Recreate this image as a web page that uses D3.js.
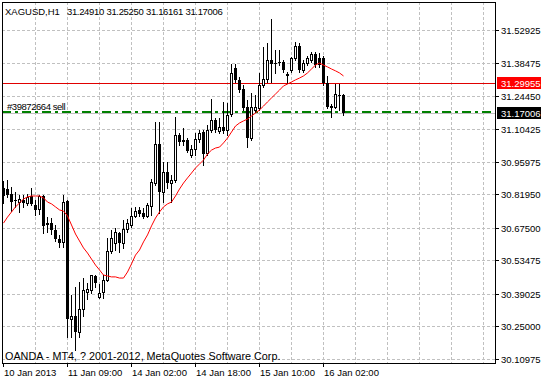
<!DOCTYPE html>
<html>
<head>
<meta charset="utf-8">
<script src="https://cdn.jsdelivr.net/npm/d3@7.9.0/dist/d3.min.js"></script>
<style>
  body { margin: 0; background: #fff; }
  svg { display: block; font-family: "Liberation Sans", Arial, sans-serif; }
</style>
</head>
<body>
<svg id="chart" width="541" height="380"></svg>
<script>
// XAGUSD H1, 86 bars
const opens = [30.848,30.843,30.822,30.796,30.787,30.796,30.783,30.813,30.774,30.757,
  30.813,30.697,30.697,30.666,30.627,30.615,30.792,30.282,30.295,30.226,
  30.325,30.399,30.407,30.468,30.377,30.399,30.451,30.576,30.610,30.653,
  30.610,30.670,30.688,30.727,30.753,30.740,30.727,30.770,30.869,31.037,
  30.830,30.916,30.869,30.882,31.076,31.055,31.055,30.990,31.016,31.059,
  31.089,30.998,31.098,31.141,31.094,31.111,31.098,31.167,31.365,31.314,
  31.275,31.197,31.064,31.184,31.193,31.292,31.318,31.400,31.387,31.391,
  31.391,31.335,31.357,31.409,31.460,31.357,31.387,31.400,31.426,31.409,
  31.409,31.301,31.197,31.197,31.249,31.24910];
const highs = [30.878,30.882,30.852,30.830,30.817,30.817,30.822,30.848,30.796,30.817,
  30.817,30.722,30.718,30.688,30.645,30.817,30.796,30.386,30.420,30.442,
  30.459,30.437,30.472,30.472,30.433,30.472,30.632,30.666,30.675,30.658,
  30.709,30.713,30.761,30.766,30.766,30.761,30.783,30.886,31.132,31.132,
  30.959,30.959,30.904,31.154,31.085,31.107,31.063,31.033,31.085,31.098,
  31.098,31.120,31.232,31.150,31.150,31.219,31.214,31.383,31.383,31.327,
  31.292,31.227,31.258,31.249,31.344,31.456,31.473,31.577,31.443,31.443,
  31.400,31.348,31.413,31.478,31.473,31.400,31.417,31.434,31.434,31.430,
  31.417,31.331,31.210,31.296,31.296,31.25250];
const lows = [30.783,30.809,30.748,30.766,30.744,30.766,30.774,30.774,30.731,30.735,
  30.653,30.658,30.649,30.619,30.593,30.593,30.205,30.205,30.149,30.205,
  30.295,30.369,30.394,30.420,30.373,30.373,30.446,30.567,30.580,30.571,
  30.589,30.658,30.680,30.722,30.727,30.718,30.722,30.731,30.861,30.740,
  30.787,30.848,30.787,30.873,31.033,31.033,31.003,30.981,30.990,31.046,
  30.947,30.990,31.089,31.089,31.085,31.085,31.076,31.158,31.305,31.262,
  31.184,31.025,31.055,31.175,31.184,31.283,31.305,31.305,31.344,31.378,
  31.348,31.301,31.348,31.400,31.348,31.348,31.378,31.391,31.370,31.370,
  31.292,31.193,31.154,31.193,31.184,31.16161];
const closes = [30.813,30.817,30.787,30.792,30.800,30.783,30.809,30.779,30.753,30.813,
  30.684,30.688,30.666,30.627,30.610,30.787,30.282,30.295,30.226,30.325,
  30.407,30.412,30.472,30.437,30.394,30.451,30.576,30.632,30.658,30.610,
  30.670,30.697,30.727,30.748,30.735,30.722,30.774,30.873,31.037,30.830,
  30.916,30.869,30.882,31.076,31.046,31.046,31.007,31.016,31.059,31.085,
  30.994,31.098,31.141,31.098,31.111,31.094,31.163,31.344,31.314,31.270,
  31.193,31.064,31.197,31.197,31.292,31.318,31.400,31.383,31.383,31.387,
  31.357,31.340,31.409,31.460,31.357,31.387,31.409,31.426,31.378,31.378,
  31.301,31.197,31.201,31.253,31.245,31.17006];
// red moving average, one value per bar
const maValues = [30.696,30.722,30.744,30.766,30.783,30.800,30.809,30.813,30.813,30.813,
  30.805,30.787,30.779,30.766,30.753,30.748,30.727,30.688,30.649,30.619,
  30.589,30.567,30.541,30.515,30.494,30.472,30.468,30.464,30.464,30.459,
  30.459,30.485,30.520,30.558,30.580,30.615,30.645,30.684,30.718,30.744,
  30.766,30.779,30.787,30.813,30.843,30.869,30.891,30.912,30.934,30.951,
  30.968,30.994,31.011,31.020,31.024,31.042,31.063,31.089,31.115,31.128,
  31.137,31.145,31.158,31.171,31.184,31.201,31.219,31.236,31.253,31.270,
  31.288,31.296,31.305,31.314,31.322,31.331,31.344,31.361,31.378,31.387,
  31.378,31.370,31.361,31.353,31.344,31.331];

const priceTicks = [31.52925,31.38475,31.24450,31.10425,30.95975,30.81950,
  30.67500,30.53475,30.39025,30.25000,30.10975];
const timeLabels = ["10 Jan 2013","11 Jan 09:00","14 Jan 02:00","14 Jan 18:00","15 Jan 10:00","16 Jan 02:00"];
const timeLabelBars = [0,16,32,48,64,80];

const symbol = "XAGUSD,H1";
const alertPrice = 31.29955;
const bidPrice = 31.17006;
const orderPrice = 31.1745;
const orderLabel = "#39872664 sell";
const copyright = "OANDA - MT4, ? 2001-2012, MetaQuotes Software Corp.";

const plotLeft = 2, plotTop = 2, plotRight = 495, plotBottom = 363;
const svg = d3.select("#chart");
const fmt = d3.format(".5f");
const px = v => Math.round(v) + 0.5;

const x = d3.scaleLinear().domain([0, 123]).range([3, 495]);
const y = d3.scaleLinear()
  .domain([priceTicks[priceTicks.length - 1], priceTicks[0]])
  .range([359, 30]);

svg.append("clipPath").attr("id", "plot")
  .append("rect").attr("x", plotLeft + 1).attr("y", plotTop + 1)
  .attr("width", plotRight - plotLeft - 1).attr("height", plotBottom - plotTop - 1);

const plot = svg.append("g").attr("clip-path", "url(#plot)");

// grid
const gridBars = d3.range(8, 124, 8);
plot.selectAll(".vgrid").data(gridBars).join("line")
  .attr("x1", d => px(x(d))).attr("x2", d => px(x(d)))
  .attr("y1", plotTop).attr("y2", plotBottom)
  .attr("stroke", "#c0c0c0").attr("stroke-dasharray", "3,2");
plot.selectAll(".hgrid").data(priceTicks).join("line")
  .attr("x1", plotLeft).attr("x2", plotRight)
  .attr("y1", d => px(y(d))).attr("y2", d => px(y(d)))
  .attr("stroke", "#c0c0c0").attr("stroke-dasharray", "3,2");

// level lines
plot.append("line")
  .attr("x1", plotLeft).attr("x2", plotRight)
  .attr("y1", px(y(alertPrice))).attr("y2", px(y(alertPrice)))
  .attr("stroke", "#e00000");
plot.append("line")
  .attr("x1", plotLeft).attr("x2", plotRight)
  .attr("y1", px(y(bidPrice))).attr("y2", px(y(bidPrice)))
  .attr("stroke", "#c0c0c0");
plot.append("line")
  .attr("x1", plotLeft).attr("x2", plotRight)
  .attr("y1", Math.round(y(orderPrice))).attr("y2", Math.round(y(orderPrice)))
  .attr("stroke", "#008000").attr("stroke-width", 2)
  .attr("stroke-dasharray", "9,4,3,4");

// candles
const bars = d3.range(opens.length);
const candles = plot.selectAll(".candle").data(bars).join("g");
candles.append("line")
  .attr("x1", i => px(x(i))).attr("x2", i => px(x(i)))
  .attr("y1", i => Math.round(y(highs[i]))).attr("y2", i => Math.round(y(lows[i])) + 1)
  .attr("stroke", "#000");
candles.append("rect")
  .each(function (i) {
    const c = Math.round(x(i));
    const yt = Math.round(y(Math.max(opens[i], closes[i])));
    const yb = Math.round(y(Math.min(opens[i], closes[i])));
    const r = d3.select(this);
    if (closes[i] > opens[i]) {
      r.attr("x", c - 0.5).attr("y", yt + 0.5)
        .attr("width", 2).attr("height", Math.max(yb - yt, 0))
        .attr("fill", "#fff").attr("stroke", "#000");
    } else {
      r.attr("x", c - 1).attr("y", yt)
        .attr("width", 3).attr("height", Math.max(yb - yt, 1))
        .attr("fill", "#000");
    }
  });

// moving average
plot.append("path")
  .datum(maValues)
  .attr("d", d3.line().x((d, i) => x(i) + 0.5).y(d => y(d)))
  .attr("fill", "none").attr("stroke", "#ff0000").attr("stroke-width", 1);

// frame
svg.append("rect")
  .attr("x", plotLeft + 0.5).attr("y", plotTop + 0.5)
  .attr("width", plotRight - plotLeft).attr("height", plotBottom - plotTop)
  .attr("fill", "none").attr("stroke", "#000");

// price axis
const ax = svg.append("g").attr("font-size", "9.5px");
ax.selectAll(".ptick").data(priceTicks).join("line")
  .attr("x1", plotRight).attr("x2", plotRight + 4)
  .attr("y1", d => px(y(d))).attr("y2", d => px(y(d)))
  .attr("stroke", "#000");
ax.selectAll(".plabel").data(priceTicks).join("text")
  .attr("x", plotRight + 6).attr("y", d => Math.round(y(d)) + 4)
  .text(d => fmt(d));

function priceTag(p, bg) {
  const yy = Math.round(y(p));
  ax.append("rect").attr("x", plotRight + 2).attr("y", yy - 6)
    .attr("width", 541 - plotRight - 2).attr("height", 12).attr("fill", bg);
  ax.append("text").attr("x", plotRight + 6).attr("y", yy + 4)
    .attr("fill", "#fff").text(fmt(p));
}
priceTag(alertPrice, "#ff0000");
priceTag(bidPrice, "#000");

// time axis
const tx = svg.append("g").attr("font-size", "9.5px");
tx.selectAll("line").data(timeLabelBars).join("line")
  .attr("x1", d => px(x(d))).attr("x2", d => px(x(d)))
  .attr("y1", plotBottom).attr("y2", plotBottom + 4)
  .attr("stroke", "#000");
tx.selectAll("text").data(timeLabels).join("text")
  .attr("x", (d, i) => Math.round(x(timeLabelBars[i])) + 1)
  .attr("y", 376)
  .text(d => d);

// header
const last = opens.length - 1;
const head = svg.append("g").attr("font-size", "9.5px").attr("letter-spacing", "-0.35px");
head.append("text").attr("x", 5).attr("y", 15).attr("letter-spacing", "0").text(symbol);
[opens[last], highs[last], lows[last], closes[last]].forEach((v, k) => {
  head.append("text").attr("x", 67 + k * 39.5).attr("y", 15).text(fmt(v));
});

svg.append("text").attr("x", 7).attr("y", 110)
  .attr("font-size", "9.5px").attr("letter-spacing", "-0.45px").text(orderLabel);

svg.append("text").attr("x", 5).attr("y", 360)
  .attr("font-size", "10.8px").text(copyright);
</script>
</body>
</html>
